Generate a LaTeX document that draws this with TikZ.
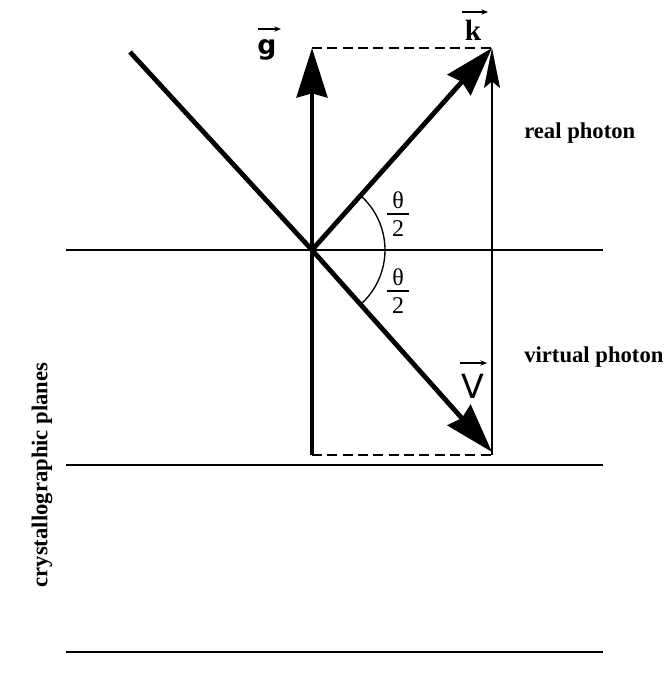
\documentclass[tikz,border=0pt]{standalone}
\usepackage{amsmath}
\usepackage{fontspec}
\setmainfont{Liberation Serif}
\newfontfamily\dsans{DejaVu Sans}
\usetikzlibrary{arrows.meta}
\begin{document}
\begin{tikzpicture}[x=0.75pt,y=-0.75pt,
  plane/.style={line width=1.6pt},
  vec/.style={line width=3.6pt,-{Stealth[length=37pt,width=23pt,inset=3pt]}},
  bar/.style={line width=3.6pt},
  thinvec/.style={line width=1.4pt,-{Stealth[length=30pt,width=12pt,inset=5pt]}},
  dashline/.style={line width=1.5pt,dash pattern=on 7.5pt off 4pt},
  arcline/.style={line width=1pt},
  accent/.style={line width=0.9pt,-{Stealth[length=5pt,width=4pt]}},
  veclabel/.style={inner sep=0pt},
  fraclabel/.style={inner sep=0pt,font=\fontsize{18}{20}\selectfont},
  txt/.style={inner sep=0pt,font=\fontsize{17}{20}\selectfont\bfseries}]
\newcommand\halfth{$\genfrac{}{}{1.1pt}{1}{\mbox{\rule[-2.5pt]{0pt}{2.5pt}\hspace{4pt}θ\hspace{4pt}}}{\mbox{\rule{0pt}{15pt}2}}$}
\useasboundingbox (0,0) rectangle (670,682);
\coordinate (O) at (312,250);
\coordinate (G) at (312,48);
\coordinate (K) at (492,48);
\coordinate (V) at (492,452);
\coordinate (Gb) at (312,455);
\coordinate (Vb) at (492,455);
\coordinate (I) at (130,52);
\coordinate (p1l) at (66,250); \coordinate (p1r) at (603,250);
\coordinate (p2l) at (66,465); \coordinate (p2r) at (603,465);
\coordinate (p3l) at (66,652); \coordinate (p3r) at (603,652);
% planes
\draw[plane] (p1l) -- (p1r);
\draw[plane] (p2l) -- (p2r);
\draw[plane] (p3l) -- (p3r);
% dashed
\draw[dashline] (G) -- (K);
\draw[dashline] (Gb) -- (Vb);
% thin vertical
\draw[thinvec] (Vb) -- (K);
% incident
\draw[bar] (I) -- (O);
% vectors
\draw[vec] (Gb) -- (G);
\draw[vec] (O) -- (K);
\draw[vec] (O) -- (V);
% arc
\draw[arcline] (O) ++(-48:73) arc[start angle=-48,end angle=48,radius=73];
% vector labels
\node[veclabel,anchor=base,font=\fontsize{20}{22}\selectfont\dsans\bfseries] (lg) at (267,54) {g};
\coordinate (ag1) at (258,29); \coordinate (ag2) at (281,29);
\draw[accent] (ag1) -- (ag2);
\node[veclabel,anchor=base,font=\fontsize{22}{24}\selectfont\bfseries] (lk) at (473,40) {k};
\coordinate (ak1) at (462,12); \coordinate (ak2) at (488,12);
\draw[accent] (ak1) -- (ak2);
\node[veclabel,anchor=base,font=\fontsize{25}{27}\selectfont\dsans] (lv) at (473,398) {V};
\coordinate (av1) at (460,363); \coordinate (av2) at (487,363);
\draw[accent] (av1) -- (av2);
% angle labels
\node[fraclabel] (t1) at (398,214) {\halfth};
\node[fraclabel] (t2) at (398,291) {\halfth};
% texts
\node[txt,anchor=west] (rp) at (524,133) {real photon};
\node[txt,anchor=west] (vp) at (524,357) {virtual photon};
\node[txt,rotate=90] (cp) at (42,475) {crystallographic planes};
\end{tikzpicture}
\end{document}
